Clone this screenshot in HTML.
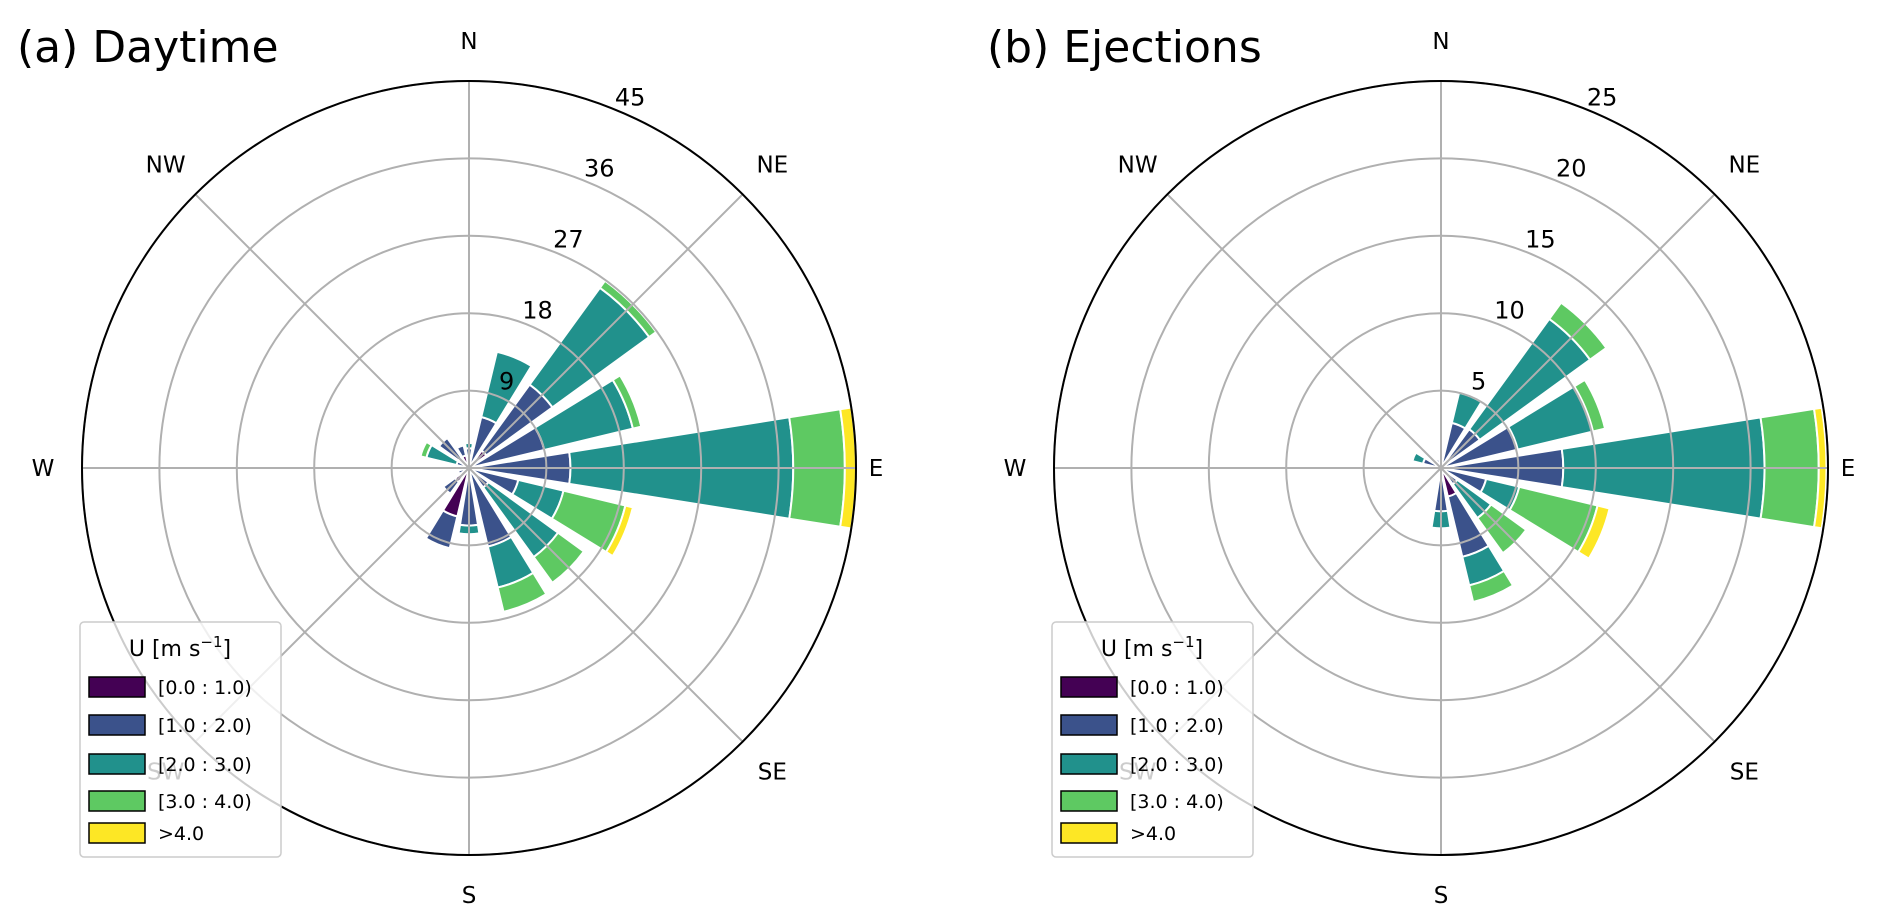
<!DOCTYPE html>
<html><head><meta charset="utf-8">
<style>
html,body{margin:0;padding:0;background:#fff;}
svg{display:block;font-family:"DejaVu Sans","Liberation Sans",sans-serif;}
</style></head>
<body>
<svg id="chart" width="1892" height="920" viewBox="0 0 1892 920" xmlns="http://www.w3.org/2000/svg"></svg>
<script>
const directions = ["N","NNE","NE","ENE","E","ESE","SE","SSE","S","SSW","SW","WSW","W","WNW","NW","NNW"];
const classLabels = ["[0.0 : 1.0)","[1.0 : 2.0)","[2.0 : 3.0)","[3.0 : 4.0)",">4.0"];
const dayC0 = [0.3,0.3,2.5,0.3,0.3,0.3,0.3,0.3,0.2,5.8,2.0,0.6,0.3,0.5,1.5,1.5];
const dayC1 = [2.0,5.8,9.5,8.7,11.5,5.6,2.5,9.1,6.5,3.8,1.7,0.7,0.2,1.0,2.8,1.2];
const dayC2 = [0.6,7.8,13.9,10.6,25.9,5.4,10.0,4.9,1.0,0,0,0,0,3.6,0,0];
const dayC3 = [0,0,1.0,1.0,6.0,7.4,3.7,2.9,0,0,0,0,0,0.7,0,0];
const dayC4 = [0,0,0,0,1.3,0.9,0,0,0,0,0,0,0,0,0,0];
const dayTicks = [9,18,27,36,45];
const ejC0 = [0.1,0.2,0.4,0.3,0.3,0.3,0.3,1.9,0.2,0.2,0.1,0.1,0.1,0.3,0.2,0.2];
const ejC1 = [0,2.8,2.7,4.8,7.6,2.7,1.0,4.0,2.6,0.3,0,0,0,0.9,0.4,0.4];
const ejC2 = [0,2.0,8.8,5.0,13.0,2.2,2.7,1.9,1.1,0,0,0,0,0.7,0,0];
const ejC3 = [0,0,1.3,0.8,3.5,5.2,2.8,1.1,0,0,0,0,0,0,0,0];
const ejC4 = [0,0,0,0,0.5,0.8,0,0,0,0,0,0,0,0,0,0];
const ejTicks = [5,10,15,20,25];

const colors = ["#440154","#3b528b","#21918c","#5ec962","#fde725"];
const NS = "http://www.w3.org/2000/svg";
const svg = document.getElementById("chart");
function mk(tag, attrs, parent){const e=document.createElementNS(NS,tag);for(const k in attrs)e.setAttribute(k,attrs[k]);(parent||svg).appendChild(e);return e;}

function drawRose(cx, cy, R, title, titleX, series, ticks, key){
  const g = mk("g",{});
  
  
  const rmax = ticks[ticks.length-1];
  const rs = v => v / rmax * R;
  const pt = (deg, r) => [cx + r*Math.sin(deg*Math.PI/180), cy - r*Math.cos(deg*Math.PI/180)];
  const half = 9;
  directions.forEach((d, i) => {
    const ang = i*22.5;
    let base = 0;
    series.forEach((arr, c) => {
      const v = arr[i];
      if (v <= 0) return;
      const r0 = rs(base), r1 = rs(base + v);
      base += v;
      const a0 = ang-half, a1 = ang+half;
      const p1 = pt(a0, r0), p2 = pt(a0, r1), p3 = pt(a1, r1), p4 = pt(a1, r0);
      const dstr = `M${p1[0]},${p1[1]} L${p2[0]},${p2[1]} A${r1},${r1} 0 0 1 ${p3[0]},${p3[1]} L${p4[0]},${p4[1]} A${r0},${r0} 0 0 0 ${p1[0]},${p1[1]} Z`;
      const p = mk("path",{d:dstr, fill:colors[c], stroke:"#fff", "stroke-width":2}, g);
      
      
    });
  });
  ticks.forEach(t => {
    const c = mk("circle",{cx:cx, cy:cy, r:rs(t), fill:"none", stroke:"#b0b0b0", "stroke-width":2}, g);
    
    
  });
  for (let k=0;k<8;k++){
    const p = pt(k*45, R);
    const l = mk("line",{x1:cx,y1:cy,x2:p[0],y2:p[1],stroke:"#b0b0b0","stroke-width":2}, g);
    
    
  }
  const o = mk("circle",{cx:cx,cy:cy,r:R,fill:"none",stroke:"#000","stroke-width":2}, g);
  
  
  ticks.forEach(t => {
    const p = pt(23.5, rs(t)+17);
    const tx = mk("text",{x:p[0],y:p[1]+8,"text-anchor":"middle","font-size":24,fill:"#000"}, g);
    tx.textContent = t;
    
    
  });
  const comp = ["N","NE","E","SE","S","SW","W","NW"];
  comp.forEach((n,k) => {
    let rr;
    if (k%2===1) rr = R+42;
    else if (k===0 || k===4) rr = R+40;
    else if (k===2) rr = R+20;
    else rr = R+39;
    const p = pt(k*45, rr);
    const tx = mk("text",{x:p[0],y:p[1]+8,"text-anchor":"middle","font-size":23,fill:"#000"}, g);
    tx.textContent = n;
    
    
  });
  const tt = mk("text",{x:titleX,y:62,"font-size":44,fill:"#000"}, g);
  tt.textContent = title;
  
  
  const lx = cx-389, ly = 622;
  const lg = mk("g",{}, g);
  
  
  mk("rect",{x:lx,y:ly,width:201,height:235,rx:4,fill:"rgba(255,255,255,0.8)",stroke:"#cccccc","stroke-width":1.5}, lg);
  const lt = mk("text",{x:lx+100,y:ly+34,"text-anchor":"middle","font-size":22,fill:"#000"}, lg);
  lt.innerHTML = 'U [m s<tspan dy="-9" font-size="15">−1</tspan><tspan dy="9">]</tspan>';
  
  
  const ys = [687,725,764,801,833];
  classLabels.forEach((lab, c) => {
    const y = ys[c];
    const r = mk("rect",{x:lx+9,y:y-10,width:56,height:20,fill:colors[c],stroke:"#000","stroke-width":1.5}, lg);
    
    
    const t = mk("text",{x:lx+78,y:y+7,"font-size":19,fill:"#000"}, lg);
    t.textContent = lab;
    
    
  });
}
drawRose(469, 468, 387, "(a) Daytime", 17, [dayC0,dayC1,dayC2,dayC3,dayC4], dayTicks, "daytime");
drawRose(1441, 468, 387, "(b) Ejections", 987, [ejC0,ejC1,ejC2,ejC3,ejC4], ejTicks, "ejections");
</script>
</body></html>
